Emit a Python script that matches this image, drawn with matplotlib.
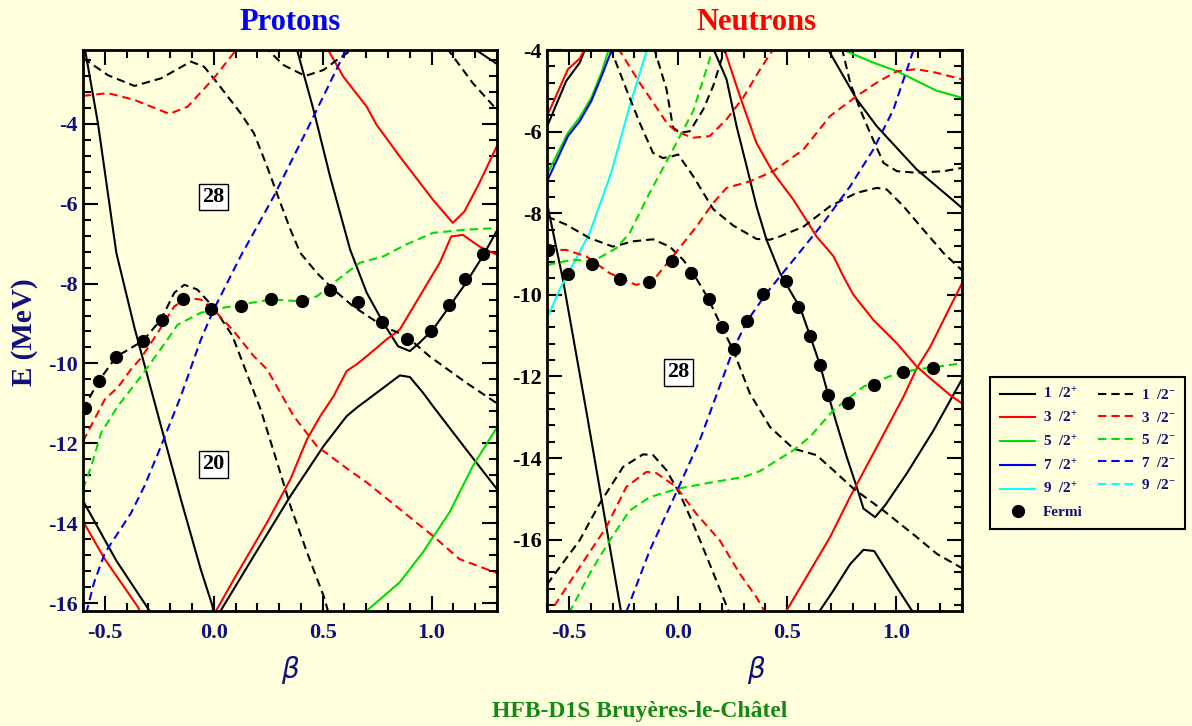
import matplotlib
matplotlib.use('Agg')
import matplotlib.pyplot as plt
from matplotlib.ticker import MultipleLocator, FormatStrFormatter
from matplotlib.lines import Line2D

# ---------------- Protons (beta, E) ----------------
p_1p_a = ([-0.592, -0.531, -0.447, -0.364, -0.242, -0.151, -0.060, -0.006, 0.0],
          [-2.10, -4.0, -7.23, -9.1, -11.57, -13.4, -15.15, -16.07, -16.3])
p_1p_b = ([0.02, 0.184, 0.352, 0.504, 0.61, 0.656, 0.854, 0.9, 0.96, 1.006, 1.158, 1.3],
          [-16.3, -14.82, -13.32, -12.07, -11.32, -11.11, -10.3, -10.34, -10.73, -11.07, -12.15, -13.15])
p_1p_c = ([-0.6, -0.447, -0.288], [-13.44, -14.94, -16.25])
p_1p_d = ([0.38, 0.458, 0.534, 0.626, 0.702, 0.778, 0.846, 0.9, 0.945, 1.006, 1.082, 1.158, 1.234, 1.3],
          [-2.1, -3.65, -5.32, -7.15, -8.23, -8.98, -9.57, -9.69, -9.48, -9.15, -8.57, -7.98, -7.32, -6.67])
p_1p_e = ([1.19, 1.3], [-2.1, -2.5])
p_3p_a = ([-0.6, -0.5, -0.348, -0.335], [-13.95, -14.9, -16.1, -16.25])
p_3p_b = ([0.0, 0.093, 0.245, 0.352, 0.428, 0.489, 0.55, 0.61, 0.656, 0.702, 0.793, 0.854, 0.945, 1.037, 1.09, 1.143, 1.219, 1.3],
          [-16.3, -15.4, -13.98, -12.9, -11.9, -11.32, -10.82, -10.19, -10.02, -9.82, -9.4, -9.15, -8.32, -7.48, -6.82, -6.78, -7.07, -7.28])
p_3p_c = ([0.52, 0.595, 0.702, 0.747, 0.854, 1.006, 1.097, 1.151, 1.219, 1.3],
          [-2.1, -2.82, -3.57, -4.02, -4.82, -5.9, -6.48, -6.19, -5.48, -4.55])
p_5p_a = ([0.69, 0.854, 0.96, 1.082, 1.189, 1.3], [-16.25, -15.48, -14.73, -13.73, -12.57, -11.6])
p_1m_a = ([-0.6, -0.486, -0.364, -0.242, -0.105, -0.044, 0.017, 0.123, 0.184, 0.245, 0.306, 0.352, 0.397,
           0.473, 0.55, 0.64, 0.778, 0.884, 0.99, 1.158, 1.3],
          [-2.35, -2.78, -3.05, -2.86, -2.44, -2.57, -2.98, -3.73, -4.23, -5.07, -5.98, -6.65, -7.23,
           -7.73, -8.15, -8.57, -9.07, -9.32, -9.82, -10.48, -11.0])
p_1m_b = ([0.23, 0.321, 0.42, 0.504, 0.565, 0.66], [-2.05, -2.53, -2.8, -2.65, -2.4, -2.05])
p_1m_c = ([1.07, 1.189, 1.3], [-2.1, -2.98, -3.65])
p_1m_d = ([-0.6, -0.528, -0.447, -0.326, -0.242, -0.181, -0.135, -0.075, 0.0, 0.085, 0.215, 0.291, 0.352,
           0.428, 0.504, 0.53],
          [-11.15, -10.44, -9.83, -9.44, -8.9, -8.23, -8.03, -8.15, -8.6, -9.3, -11.15, -12.48, -13.57,
           -14.73, -15.82, -16.3])
p_3m_a = ([-0.6, -0.486, -0.364, -0.204, -0.12, 0.0, 0.11], [-3.3, -3.23, -3.4, -3.75, -3.57, -2.86, -2.1])
p_3m_b = ([-0.6, -0.5, -0.44, -0.38, -0.333, -0.257, -0.181, -0.12, -0.059, 0.0, 0.093, 0.184, 0.245, 0.367,
           0.473, 0.626, 0.702, 0.854, 1.006, 1.128, 1.3],
          [-11.95, -10.9, -10.6, -10.15, -9.86, -9.23, -8.57, -8.36, -8.4, -8.65, -9.2, -9.82, -10.15, -11.32,
           -12.07, -12.69, -12.98, -13.65, -14.32, -14.9, -15.25])
p_5m_a = ([-0.6, -0.562, -0.516, -0.44, -0.333, -0.212, -0.166, -0.059, 0.0, 0.123, 0.26, 0.397, 0.473, 0.55,
           0.67, 0.778, 0.884, 1.006, 1.158, 1.3],
          [-13.15, -12.57, -11.73, -11.07, -10.32, -9.4, -9.03, -8.73, -8.65, -8.53, -8.4, -8.44, -8.32, -7.98,
           -7.48, -7.32, -7.02, -6.73, -6.65, -6.61])
p_7m_a = ([-0.585, -0.55, -0.5, -0.44, -0.38, -0.318, -0.242, -0.151, -0.059, 0.0, 0.123, 0.275, 0.428, 0.588, 0.61],
          [-16.25, -15.5, -14.75, -14.25, -13.75, -13.07, -12.07, -10.82, -9.4, -8.65, -7.32, -5.82, -4.15, -2.36, -2.1])
p_fermi_beta = [-0.592, -0.528, -0.447, -0.326, -0.239, -0.140, -0.011, 0.123, 0.263, 0.403, 0.534, 0.661,
                0.770, 0.887, 0.998, 1.079, 1.154, 1.234]
p_fermi_e = [-11.11, -10.44, -9.83, -9.44, -8.9, -8.38, -8.63, -8.55, -8.38, -8.43, -8.17, -8.47,
             -8.97, -9.4, -9.18, -8.54, -7.88, -7.25]

# ---------------- Neutrons (beta, E) ----------------
n_1p_a = ([-0.6, -0.512, -0.45, -0.42], [-5.88, -4.76, -4.31, -3.9])
n_1p_b = ([-0.6, -0.527, -0.42, -0.26], [-7.75, -9.63, -12.85, -17.8])
n_1p_c = ([0.16, 0.222, 0.268, 0.314, 0.359, 0.405, 0.467, 0.528, 0.558, 0.604, 0.65, 0.688, 0.726, 0.772,
           0.818, 0.849, 0.902, 0.948, 1.047, 1.17, 1.3],
          [-3.95, -4.72, -5.87, -6.85, -7.83, -8.65, -9.47, -10.04, -10.3, -11.0, -11.72, -12.46, -13.16, -13.97,
           -14.71, -15.24, -15.45, -15.16, -14.38, -13.32, -12.07])
n_1p_d = ([0.683, 0.818, 0.91, 1.093, 1.3], [-3.95, -5.21, -5.87, -6.93, -7.87])
n_1p_e = ([0.642, 0.711, 0.788, 0.849, 0.898, 1.002, 1.078], [-17.8, -17.25, -16.6, -16.25, -16.28, -17.17, -17.8])
n_3p_a = ([-0.6, -0.504, -0.45, -0.42], [-5.62, -4.47, -4.21, -3.9])
n_3p_b = ([0.21, 0.283, 0.359, 0.436, 0.528, 0.596, 0.634, 0.711, 0.757, 0.803, 0.895, 1.002, 1.093, 1.155,
           1.246, 1.3],
          [-3.95, -5.13, -6.28, -7.01, -7.67, -8.24, -8.57, -9.05, -9.55, -10.0, -10.62, -11.19, -11.76, -12.05,
           -12.46, -12.66])
n_3p_c = ([0.49, 0.696, 0.787, 0.91, 1.032, 1.093, 1.155, 1.246, 1.3],
          [-17.8, -15.94, -14.96, -13.73, -12.5, -11.8, -11.27, -10.29, -9.72])
n_5p_a = ([-0.6, -0.504, -0.451, -0.397, -0.351, -0.315], [-7.05, -6.03, -5.66, -5.17, -4.56, -3.95])
n_5p_b = ([0.75, 0.894, 1.002, 1.093, 1.185, 1.3], [-3.98, -4.31, -4.52, -4.76, -5.0, -5.17])
n_7p_a = ([-0.6, -0.504, -0.451, -0.397, -0.344, -0.3], [-7.22, -6.11, -5.75, -5.25, -4.56, -3.95])
n_9p_a = ([-0.6, -0.543, -0.405, -0.306, -0.222, -0.14], [-10.58, -9.88, -8.49, -7.01, -5.38, -3.95])
n_1m_a = ([-0.31, -0.237, -0.176, -0.115, -0.069, -0.023, 0.0, 0.069, 0.161, 0.252, 0.359, 0.42, 0.466, 0.574,
           0.696, 0.818, 0.91, 0.956, 1.032, 1.124, 1.216, 1.3],
          [-3.95, -4.96, -5.78, -6.52, -6.65, -6.6, -6.56, -7.09, -7.9, -8.3, -8.63, -8.65, -8.57, -8.33,
           -7.83, -7.5, -7.38, -7.42, -7.83, -8.41, -8.98, -9.4])
n_1m_b = ([-0.11, -0.053, -0.023, 0.008, 0.054, 0.115, 0.161, 0.199, 0.225],
          [-3.95, -4.96, -5.9, -6.03, -5.99, -5.46, -4.88, -4.23, -3.95])
n_1m_c = ([-0.6, -0.512, -0.405, -0.298, -0.206, -0.115, -0.038, 0.023, 0.069, 0.138, 0.199, 0.252, 0.329,
           0.421, 0.528, 0.634, 0.711, 0.803, 0.941, 1.093, 1.185, 1.3],
          [-8.08, -8.28, -8.61, -8.82, -8.69, -8.64, -8.82, -9.14, -9.47, -10.09, -10.78, -11.35, -12.42,
           -13.24, -13.77, -13.93, -14.3, -14.75, -15.29, -15.94, -16.35, -16.7])
n_1m_d = ([0.75, 0.788, 0.834, 0.879, 0.941, 1.002, 1.093, 1.216, 1.3],
          [-3.95, -4.8, -5.46, -6.03, -6.77, -6.97, -7.01, -6.97, -6.89])
n_1m_e = ([-0.6, -0.451, -0.359, -0.252, -0.16, -0.114, -0.053, 0.008, 0.069, 0.145, 0.235],
          [-17.1, -16.02, -15.12, -14.22, -13.91, -13.93, -14.3, -14.88, -15.61, -16.6, -17.8])
n_3m_a = ([-0.275, -0.176, -0.1, -0.05, -0.008, 0.069, 0.145, 0.222, 0.298, 0.375, 0.44],
          [-3.95, -4.8, -5.4, -5.8, -6.0, -6.15, -6.11, -5.7, -5.17, -4.48, -3.95])
n_3m_b = ([-0.6, -0.512, -0.42, -0.313, -0.191, -0.099, -0.008, 0.084, 0.161, 0.222, 0.329, 0.436, 0.574,
           0.696, 0.818, 0.91, 1.002, 1.093, 1.185, 1.3],
          [-8.9, -8.9, -9.06, -9.47, -9.76, -9.55, -8.95, -8.33, -7.75, -7.38, -7.22, -6.97, -6.44,
           -5.62, -5.13, -4.8, -4.52, -4.47, -4.56, -4.72])
n_3m_c = ([-0.6, -0.566, -0.451, -0.329, -0.237, -0.145, -0.099, -0.008, 0.084, 0.191, 0.283, 0.359, 0.4],
          [-17.9, -17.62, -16.68, -15.7, -14.71, -14.34, -14.37, -14.71, -15.37, -16.02, -16.84, -17.41, -17.8])
n_5m_a = ([-0.6, -0.482, -0.39, -0.283, -0.222, -0.13, -0.023, 0.069, 0.161],
          [-9.27, -9.14, -9.18, -8.86, -8.49, -7.5, -6.44, -5.5, -3.95])
n_5m_b = ([-0.5, -0.481, -0.405, -0.313, -0.222, -0.13, 0.0, 0.161, 0.298, 0.375, 0.528, 0.604, 0.711, 0.849,
           1.002, 1.093, 1.3],
          [-17.8, -17.62, -16.84, -16.02, -15.29, -14.96, -14.75, -14.59, -14.47, -14.32, -13.81, -13.48, -12.83,
           -12.25, -11.93, -11.83, -11.68])
n_7m_a = ([-0.236, -0.13, 0.0, 0.1, 0.252, 0.314, 0.405, 0.482, 0.558, 0.665, 0.788, 0.894, 0.986, 1.078],
          [-17.76, -16.27, -14.75, -13.56, -11.35, -10.66, -9.96, -9.45, -8.95, -8.24, -7.34, -6.44, -5.46, -4.0])
n_fermi_beta = [-0.596, -0.504, -0.393, -0.267, -0.135, -0.027, 0.061, 0.14, 0.202, 0.257, 0.316, 0.388,
                0.493, 0.551, 0.604, 0.65, 0.685, 0.78, 0.895, 1.028, 1.167]
n_fermi_e = [-8.9, -9.49, -9.25, -9.62, -9.68, -9.17, -9.47, -10.1, -10.78, -11.33, -10.63, -9.98,
             -9.66, -10.29, -11.0, -11.72, -12.46, -12.65, -12.2, -11.9, -11.8]

omegas = ['1', '3', '5', '7', '9']
proton_sets = {('1', '+'): [p_1p_a, p_1p_b, p_1p_c, p_1p_d, p_1p_e],
               ('3', '+'): [p_3p_a, p_3p_b, p_3p_c],
               ('5', '+'): [p_5p_a],
               ('1', '-'): [p_1m_a, p_1m_b, p_1m_c, p_1m_d],
               ('3', '-'): [p_3m_a, p_3m_b],
               ('5', '-'): [p_5m_a],
               ('7', '-'): [p_7m_a]}
neutron_sets = {('1', '+'): [n_1p_a, n_1p_b, n_1p_c, n_1p_d, n_1p_e],
                ('3', '+'): [n_3p_a, n_3p_b, n_3p_c],
                ('5', '+'): [n_5p_a, n_5p_b],
                ('7', '+'): [n_7p_a],
                ('9', '+'): [n_9p_a],
                ('1', '-'): [n_1m_a, n_1m_b, n_1m_c, n_1m_d, n_1m_e],
                ('3', '-'): [n_3m_a, n_3m_b, n_3m_c],
                ('5', '-'): [n_5m_a, n_5m_b],
                ('7', '-'): [n_7m_a]}

# shell-gap labels: (beta, E, text)
p_gaps = [(0.0, -5.83, '28'), (0.0, -12.53, '20')]
n_gaps = [(0.0, -11.9, '28')]

plt.rcParams['font.family'] = ['Liberation Serif', 'DejaVu Serif']
plt.rcParams['font.weight'] = 'bold'
plt.rcParams['axes.unicode_minus'] = False
plt.rcParams['mathtext.fontset'] = 'custom'
plt.rcParams['mathtext.rm'] = 'Liberation Serif:bold'
plt.rcParams['mathtext.bf'] = 'Liberation Serif:bold'
plt.rcParams['mathtext.it'] = 'Liberation Serif:italic:bold'

BG = '#ffffdd'
NAVY = '#10107a'
colors = {'1': 'black', '3': '#ff0000', '5': '#00dd00', '7': '#0000ee', '9': '#00ffff'}
DASH = (0, (4, 2.4))


def setup(ax, ylim, ycolor):
    ax.set_facecolor(BG)
    ax.set_xlim(-0.6, 1.3)
    ax.set_ylim(*ylim)
    ax.xaxis.set_major_locator(MultipleLocator(0.5))
    ax.xaxis.set_minor_locator(MultipleLocator(0.1))
    ax.yaxis.set_major_locator(MultipleLocator(2))
    ax.yaxis.set_minor_locator(MultipleLocator(0.4))
    ax.xaxis.set_major_formatter(FormatStrFormatter('%.1f'))
    ax.yaxis.set_major_formatter(FormatStrFormatter('%d'))
    ax.tick_params(which='both', direction='in', top=True, right=True, width=1.5)
    ax.tick_params(which='major', length=11)
    ax.tick_params(which='minor', length=5.5)
    ax.tick_params(axis='x', pad=9, labelsize=16, labelcolor=NAVY)
    ax.tick_params(axis='y', pad=4, labelsize=16, labelcolor=ycolor)
    for s in ax.spines.values():
        s.set_linewidth(2)


def draw(ax, sets, fb, fe, gaps):
    for (om, par), curves in sets.items():
        for b, e in curves:
            ax.plot(b, e, color=colors[om], lw=1.5, ls='-' if par == '+' else DASH)
    ax.plot(fb, fe, 'o', color='black', ms=8.5, zorder=5)
    box = dict(boxstyle='square,pad=0.15', facecolor='white', edgecolor='black', lw=1)
    for b, e, txt in gaps:
        ax.text(b, e, txt, ha='center', va='center', fontsize=16, bbox=box, zorder=6)


fig = plt.figure(figsize=(11.92, 7.26), dpi=100, facecolor=BG)
W, H = 1192, 726
axp = fig.add_axes([83 / W, 1 - 611 / H, 414 / W, 561 / H])
axn = fig.add_axes([547 / W, 1 - 611 / H, 415 / W, 561 / H])
setup(axp, (-16.2, -2.15), NAVY)
setup(axn, (-17.75, -4.0), 'black')
draw(axp, proton_sets, p_fermi_beta, p_fermi_e, p_gaps)
draw(axn, neutron_sets, n_fermi_beta, n_fermi_e, n_gaps)

fig.text(290 / W, 1 - 22 / H, 'Protons', color='#0000ff', fontsize=22, ha='center', va='center')
fig.text(756 / W, 1 - 22 / H, 'Neutrons', color='#ff0000', fontsize=22, ha='center', va='center')
fig.text(24 / W, 1 - 332 / H, 'E (MeV)', color=NAVY, fontsize=21, rotation=90, ha='center', va='center')
for xc in (290, 756):
    fig.text(xc / W, 1 - 670 / H, 'β', color=NAVY, fontsize=20, ha='center', va='center',
             family='DejaVu Sans', style='italic', weight='normal')
fig.text(640 / W, 1 - 711 / H, 'HFB-D1S Bruyères-le-Châtel', color='#138a13', fontsize=17,
         ha='center', va='center')

handles, labels = [], []
for om in omegas:
    handles.append(Line2D([], [], color=colors[om], lw=1.5))
    labels.append(om + '  /2$^{+}$')
handles.append(Line2D([], [], ls='none', marker='o', color='black', ms=8.5))
labels.append('Fermi')
for om in omegas:
    handles.append(Line2D([], [], color=colors[om], lw=1.5, ls=DASH))
    labels.append(om + '  /2$^{-}$')
handles.append(Line2D([], [], ls='none'))
labels.append('')
leg = fig.legend(handles, labels, ncol=2, loc='upper left', bbox_to_anchor=(990 / W, 1 - 377 / H),
                 fontsize=11, frameon=True, fancybox=False, facecolor=BG, edgecolor='black',
                 framealpha=1, handlelength=2.3, handletextpad=0.5, columnspacing=1.0,
                 borderpad=0.65, labelspacing=0.56, numpoints=1, borderaxespad=0)
leg.get_frame().set_linewidth(1.5)
for t in leg.get_texts():
    t.set_color(NAVY)

fig.savefig('out.png', dpi=100, facecolor=BG)
